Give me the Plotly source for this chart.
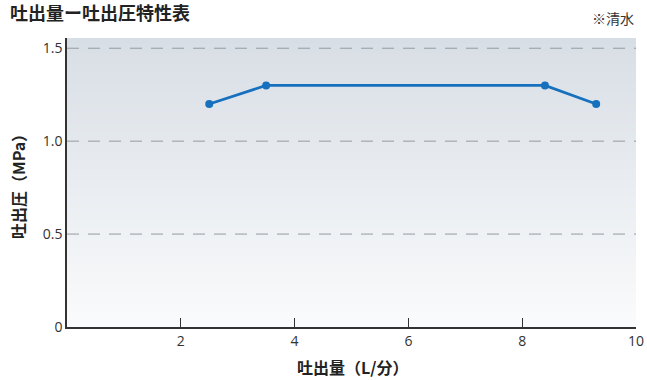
import numpy as np
import plotly.graph_objects as go

flow = [2.5, 3.5, 8.4, 9.3]
pressure = [1.2, 1.3, 1.3, 1.2]
x_ticks = [2, 4, 6, 8, 10]
y_ticks = [0, 0.5, 1.0, 1.5]
y_tick_text = ["0", "0.5", "1.0", "1.5"]

Y_MAX = 1.555
X_MAX = 10

fig = go.Figure()

# gradient background
gy = np.linspace(0, Y_MAX, 60)
fig.add_trace(go.Heatmap(
    x=[0, X_MAX], y=gy, z=[[v, v] for v in gy],
    colorscale=[[0, "rgb(250,251,252)"], [1, "rgb(216,222,229)"]],
    showscale=False, zsmooth="best", hoverinfo="skip",
))

fig.add_trace(go.Scatter(
    x=flow, y=pressure, mode="lines+markers",
    line=dict(color="rgb(22,112,190)", width=2.7),
    marker=dict(color="rgb(22,112,190)", size=8),
    showlegend=False,
))

for v in y_ticks[1:]:
    fig.add_shape(type="line", xref="x", yref="y", x0=0, x1=X_MAX, y0=v, y1=v,
                  line=dict(color="rgb(150,155,160)", width=1, dash="12px,9px"), layer="above")

fig.update_layout(
    width=647, height=380,
    margin=dict(l=67, r=11, t=38, b=53, autoexpand=False),
    paper_bgcolor="white", plot_bgcolor="white",
    font=dict(family="Noto Sans CJK JP", color="#333"),
    xaxis=dict(range=[0, X_MAX], tickvals=x_ticks, ticks="inside", ticklen=9, tickcolor="#333",
               showline=True, linecolor="#333", linewidth=1.5, showgrid=False, zeroline=False,
               automargin=False,
               tickfont=dict(family="Open Sans", size=14, color="#333")),
    yaxis=dict(range=[0, Y_MAX], tickvals=y_ticks, ticktext=y_tick_text, ticks="",
               showline=True, linecolor="#333", linewidth=1.5, showgrid=False, zeroline=False,
               automargin=False,
               tickfont=dict(family="Open Sans", size=14, color="#333")),
    annotations=[
        dict(text="<b>吐出量ー吐出圧特性表</b>", xref="paper", yref="paper", x=-0.103, y=1.0, yshift=26,
             xanchor="left", yanchor="middle", showarrow=False, font=dict(size=18, color="#222")),
        dict(text="※清水", xref="paper", yref="paper", x=1.0, y=1.0, yshift=20,
             xanchor="right", yanchor="middle", showarrow=False, font=dict(size=14, color="#333")),
        dict(text="<b>吐出量（L/分）</b>", xref="paper", yref="paper", x=(352 - 67) / 569, y=0, yshift=-40,
             xanchor="center", yanchor="middle", showarrow=False, font=dict(size=16, color="#222")),
        dict(text="<b>吐出圧（MPa）</b>", xref="paper", yref="paper", x=0, xshift=-49, y=(327 - 183) / 289,
             xanchor="center", yanchor="middle", textangle=-90, showarrow=False,
             font=dict(size=16, color="#222")),
    ],
)

fig.write_html("out.html", post_script="document.body.style.margin='0';",
               config={"displayModeBar": False})
